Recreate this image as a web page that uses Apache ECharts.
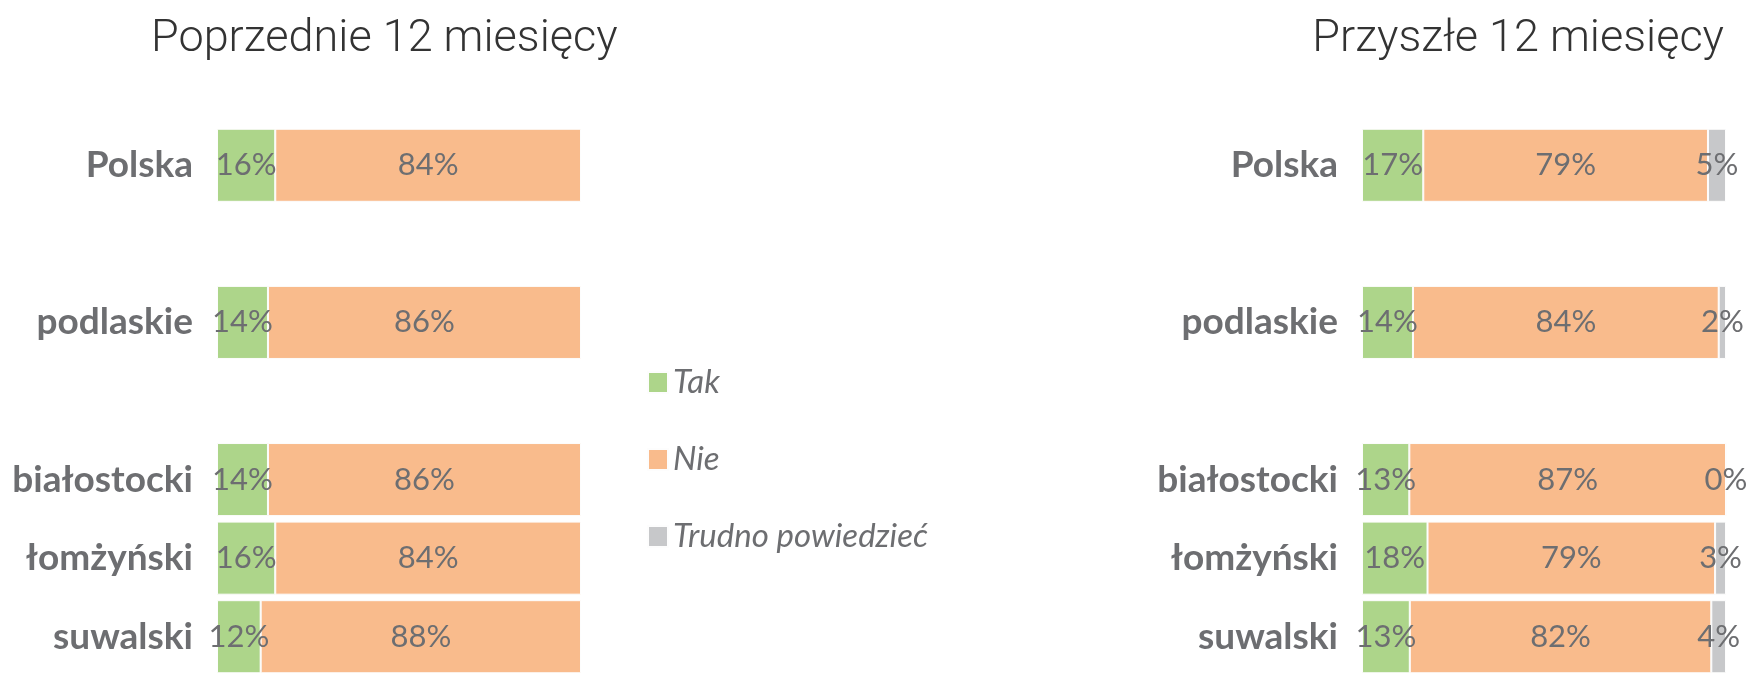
<html><head><meta charset='utf-8'>
<script src='https://cdn.jsdelivr.net/npm/echarts@6/dist/echarts.min.js'></script>
<style>html,body{margin:0;padding:0;background:#fff}#main{width:1749px;height:676px}</style>
</head><body><div id='main'></div><script>
// kategorie - puste pozycje robia odstepy miedzy grupami
var categories = ['Polska', '', 'podlaskie', '', 'białostocki', 'łomżyński', 'suwalski'];
var seriesNames = ['Tak', 'Nie', 'Trudno powiedzieć'];
var colors = ['#add58a', '#f9bb8c', '#c7c8ca'];

// Poprzednie 12 miesiecy
var prevTak = [16, null, 14, null, 14, 16, 12];
var prevNie = [84, null, 86, null, 86, 84, 88];

// Przyszle 12 miesiecy
var nextTak = [17, null, 14, null, 13, 18, 13];
var nextNie = [79, null, 84, null, 87, 79, 82];
var nextTrudno = [5, null, 2, null, 0, 3, 4];

var textColor = '#6d6e71';

// wiersze 100% - dzielimy przez sume wiersza (etykieta pokazuje wartosc)
function rows(list) {
    var out = [];
    for (var s = 0; s < list.length; s++) out.push([]);
    for (var i = 0; i < categories.length; i++) {
        var sum = 0;
        list.forEach(function (a) { if (a[i] != null) sum += a[i]; });
        list.forEach(function (a, s) {
            out[s].push(a[i] == null ? '-' : { value: a[i] / sum * 100, raw: a[i] });
        });
    }
    return out;
}

function makeSeries(list, idx, stack, names) {
    var data = rows(list);
    return data.map(function (d, s) {
        return {
            name: names[s], type: 'bar', stack: stack,
            xAxisIndex: idx, yAxisIndex: idx,
            barCategoryGap: '7%',
            itemStyle: { color: colors[s], borderColor: '#fdfdfd', borderWidth: 1 },
            label: {
                show: true, position: 'inside', color: textColor,
                fontFamily: 'Lato', fontSize: 31,
                formatter: function (p) { return p.data.raw + '%'; }
            },
            data: d
        };
    });
}

var chart = echarts.init(document.getElementById('main'));

var grids = [
    { left: 217, width: 364, top: 126, height: 560 },
    { left: 1362, width: 364, top: 126, height: 560 }
];

var yAxes = grids.map(function (g, i) {
    return {
        type: 'category', gridIndex: i, data: categories, inverse: true,
        axisLine: { show: false }, axisTick: { show: false },
        axisLabel: { margin: 24, color: textColor, fontFamily: 'Lato', fontWeight: 'bold', fontSize: 37 }
    };
});
var xAxes = grids.map(function (g, i) {
    return { type: 'value', gridIndex: i, min: 0, max: 100, show: false, splitLine: { show: false } };
});

var series = makeSeries([prevTak, prevNie], 0, 'prev', seriesNames)
    .concat(makeSeries([nextTak, nextNie, nextTrudno], 1, 'next', seriesNames));

chart.setOption({
    animation: false,
    title: [
        { text: 'Poprzednie 12 miesięcy', left: 146, top: 12,
          textStyle: { fontFamily: 'Roboto', fontWeight: 300, fontSize: 45, color: '#333' } },
        { text: 'Przyszłe 12 miesięcy', right: 20, top: 12,
          textStyle: { fontFamily: 'Roboto', fontWeight: 300, fontSize: 45, color: '#333' } }
    ],
    legend: {
        orient: 'vertical', left: 642, top: 361,
        itemWidth: 20, itemHeight: 21, itemGap: 44,
        icon: 'rect',
        data: seriesNames,
        textStyle: { fontFamily: 'Lato', fontStyle: 'italic', fontSize: 33, color: textColor }
    },
    grid: grids,
    xAxis: xAxes,
    yAxis: yAxes,
    series: series
});
</script></body></html>
